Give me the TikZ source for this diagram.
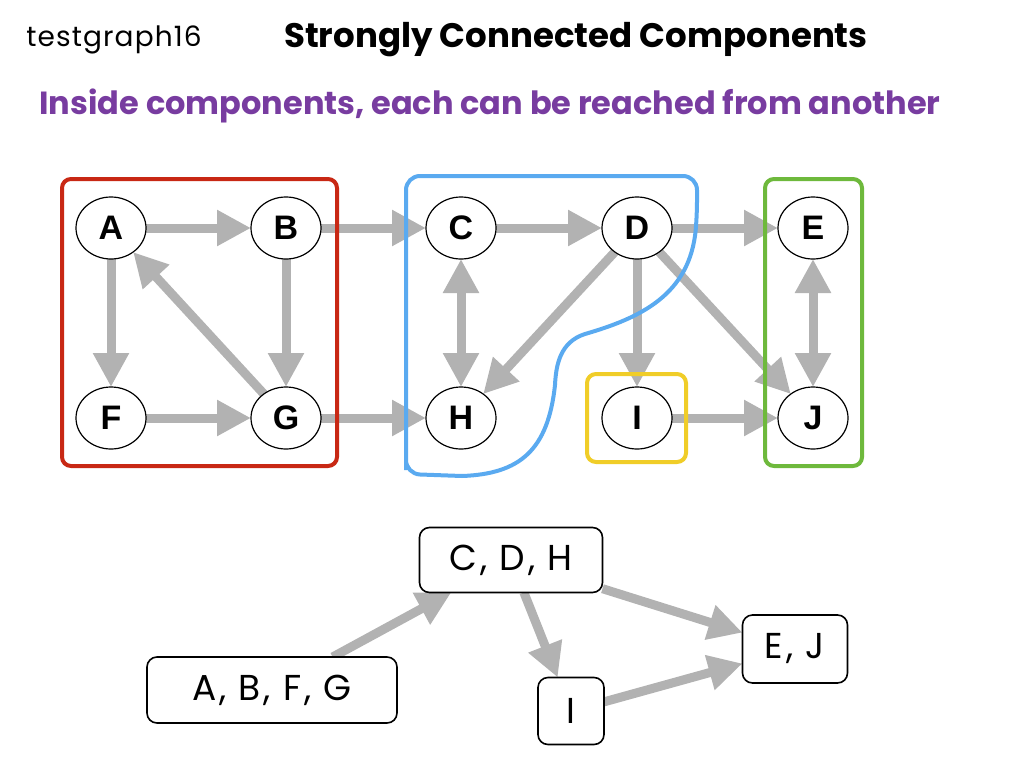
\documentclass[tikz,border=0pt]{standalone}
\usepackage{fontspec}
\setmainfont{Poppins}
\newfontfamily\letterfont{Liberation Sans}
\usetikzlibrary{shapes,backgrounds,arrows.meta}

\definecolor{arrowgray}{RGB}{178,178,178}
\definecolor{compred}{RGB}{200,40,20}
\definecolor{compblue}{RGB}{90,170,240}
\definecolor{compyellow}{RGB}{240,205,40}
\definecolor{compgreen}{RGB}{110,185,60}
\definecolor{subpurple}{RGB}{120,60,160}

% layers: arrows at the bottom, component outlines above them, nodes on top
\pgfdeclarelayer{edges}
\pgfdeclarelayer{comps}
\pgfsetlayers{edges,comps,main}

\tikzset{
    vertex/.style={ellipse, draw, line width=1.2pt, fill=white, minimum width=70pt, minimum height=62pt, inner sep=0pt, outer sep=0pt, font=\letterfont\bfseries\fontsize{34}{34}\selectfont},
    edge/.style={draw=arrowgray, line width=9pt, -{Triangle[width=34pt,length=34pt]}},
    twoway/.style={draw=arrowgray, line width=9pt, {Triangle[width=34pt,length=34pt]}-{Triangle[width=34pt,length=34pt]}},
    comp/.style={line width=4pt, rounded corners=9pt},
    group/.style={draw, rounded corners=10pt, line width=1.6pt, fill=white, inner sep=0pt, outer sep=0pt, font=\addfontfeatures{LetterSpace=8}\fontsize{36}{36}\selectfont}
}

\begin{document}
\begin{tikzpicture}[x=1pt, y=-1pt]  % one unit is one pixel of the reference, y pointing down
    \useasboundingbox (0,0) rectangle (1024,768);

    % Titles
    \node (tag) at (114,40) {\addfontfeatures{LetterSpace=4}\fontsize{28}{28}\selectfont testgraph16};
    \node (title) at (576,40) {\fontsize{34}{34}\selectfont\bfseries Strongly Connected Components};
    \node[text=subpurple] (subtitle) at (490,106) {\fontsize{32}{32}\selectfont\bfseries Inside components, each can be reached from another};

    % Vertices of the graph
    \foreach \n/\x/\y in {A/111/228, B/286/228, C/461/228, D/637/228, E/813/228,
                          F/111/418, G/286/418, H/461/418, I/637/418, J/813/418} {
        \node[vertex] (\n) at (\x,\y) {\n};
    }

    % Directed edges
    \begin{pgfonlayer}{edges}
        \foreach \a/\b in {A/B, A/F, B/G, G/A, F/G, B/C, G/H, C/D, D/E, D/H, D/I, D/J, I/J} {
            \draw[edge] (\a) -- (\b);
        }
        \draw[twoway] (C) -- (H);
        \draw[twoway] (E) -- (J);
    \end{pgfonlayer}

    % Outlines of the components
    \begin{pgfonlayer}{comps}
        \draw[comp, compred] (62,179) rectangle (337,466);
        \draw[comp, compgreen] (765,179) rectangle (862,466);
        \draw[comp, compyellow] (587,374) rectangle (686,462);
        \draw[compblue, line width=4pt, rounded corners=14pt]
            (406,470) -- (406,176) -- (697,176) -- (697,215)
            [sharp corners] .. controls (690,295) and (640,318) .. (585,334)
            .. controls (560,342) and (556,365) .. (555,385)
            .. controls (548,450) and (520,474) .. (462,476)
            [rounded corners=14pt] -- (406,474) -- (406,420);
    \end{pgfonlayer}

    % Condensed graph
    \node[group, minimum width=250pt, minimum height=66pt] (abfg) at (272,690) {A, B, F, G};
    \node[group, minimum width=183pt, minimum height=65pt] (cdh) at (511,560) {C, D, H};
    \node[group, minimum width=66pt, minimum height=67pt] (ci) at (571,711) {I};
    \node[group, minimum width=105pt, minimum height=68pt] (ej) at (795,649) {E, J};

    \begin{pgfonlayer}{edges}
        \foreach \a/\b in {abfg/cdh, cdh/ci, cdh/ej, ci/ej} {
            \draw[edge] (\a) -- (\b);
        }
    \end{pgfonlayer}
\end{tikzpicture}
\end{document}
